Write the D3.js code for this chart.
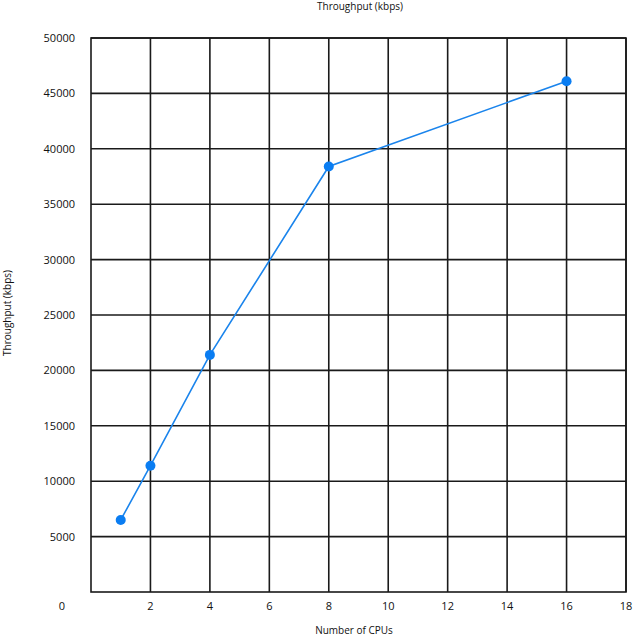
<!DOCTYPE html>
<html><head><meta charset="utf-8">
<script src="https://cdn.jsdelivr.net/npm/d3@7"></script>
<style>body{margin:0;background:#fff}text{font-family:"Open Sans","Noto Sans",sans-serif;fill:#111}</style>
</head><body><svg id="c" width="633" height="638"></svg>
<script>
const cpus = [1, 2, 4, 8, 16];
const throughput = [6500, 11400, 21400, 38400, 46100];
const xTicks = [2, 4, 6, 8, 10, 12, 14, 16, 18];
const yTicks = [5000, 10000, 15000, 20000, 25000, 30000, 35000, 40000, 45000, 50000];

const svg = d3.select("#c");
const L = 91, R = 626, T = 38, B = 592;
const x = d3.scaleLinear().domain([0, 18]).range([L, R]);
const y = d3.scaleLinear().domain([0, 50000]).range([B, T]);

// grid
svg.append("g").selectAll("line").data(xTicks).join("line")
  .attr("x1", d => x(d)).attr("x2", d => x(d)).attr("y1", T).attr("y2", B)
  .attr("stroke", "#1a1a1a").attr("stroke-width", 1.6);
svg.append("g").selectAll("line").data(yTicks).join("line")
  .attr("x1", L).attr("x2", R).attr("y1", d => y(d)).attr("y2", d => y(d))
  .attr("stroke", "#1a1a1a").attr("stroke-width", 1.6);
svg.append("rect").attr("x", L).attr("y", T).attr("width", R - L).attr("height", B - T)
  .attr("fill", "none").attr("stroke", "#1a1a1a").attr("stroke-width", 1.6);

// tick labels
svg.append("g").selectAll("text").data(yTicks).join("text")
  .attr("x", 75).attr("y", d => y(d) + 4).attr("text-anchor", "end")
  .attr("font-size", 11).text(d => d);
svg.append("g").selectAll("text").data(xTicks).join("text")
  .attr("x", d => x(d)).attr("y", 610).attr("text-anchor", "middle")
  .attr("font-size", 11).text(d => d);
svg.append("text").attr("x", 62).attr("y", 610).attr("text-anchor", "middle")
  .attr("font-size", 11).text("0");

// titles
svg.append("text").attr("x", 360).attr("y", 10).attr("text-anchor", "middle")
  .attr("font-size", 10).text("Throughput (kbps)");
svg.append("text").attr("x", 354).attr("y", 634).attr("text-anchor", "middle")
  .attr("font-size", 10).text("Number of CPUs");
svg.append("text").attr("transform", "translate(11,313) rotate(-90)").attr("text-anchor", "middle")
  .attr("font-size", 10).text("Throughput (kbps)");

// series
const data = cpus.map((c, i) => ({c, v: throughput[i]}));
svg.append("path").datum(data)
  .attr("d", d3.line().x(d => x(d.c)).y(d => y(d.v)))
  .attr("fill", "none").attr("stroke", "#1a84ec").attr("stroke-width", 1.6);
svg.append("g").selectAll("circle").data(data).join("circle")
  .attr("cx", d => x(d.c)).attr("cy", d => y(d.v)).attr("r", 5)
  .attr("fill", "#0a7df2");
</script></body></html>
